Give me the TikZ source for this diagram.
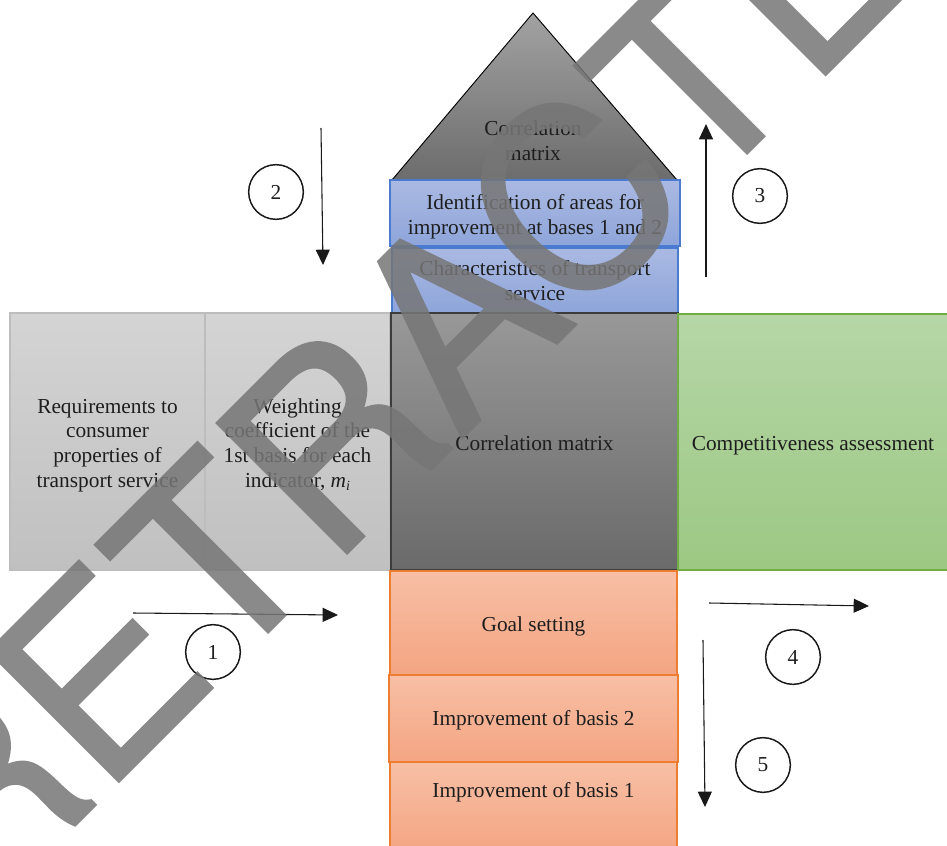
\documentclass[tikz,border=0pt]{standalone}
\usepackage{fontspec}
\setmainfont{Liberation Serif}
\newfontfamily\wmfont[FakeBold=1.2]{TeX Gyre Heros}
\usetikzlibrary{arrows.meta}
\definecolor{txt}{HTML}{1E1E1E}
\definecolor{wmgray}{HTML}{767676}
\definecolor{blueedge}{HTML}{4A7BD0}
\definecolor{greenedge}{HTML}{70AD47}
\definecolor{orangeedge}{HTML}{ED7D31}
\definecolor{greyedge}{HTML}{BDBDBD}
\newcommand{\lowtext}[1]{\raisebox{-2.8pt}[\height][\depth]{\begin{tabular}{@{}c@{}}#1\end{tabular}}}
\tikzset{
  boxbase/.style={shade, inner sep=0pt, align=center, text=txt,
    font=\fontsize{16}{18.5}\selectfont},
  bluebox/.style={boxbase, draw=blueedge, line width=0.9pt, top color={rgb,255:red,170;green,185;blue,226}, bottom color={rgb,255:red,142;green,165;blue,218}},
  greybox/.style={boxbase, draw=greyedge, line width=0.8pt, top color={rgb,255:red,212;green,212;blue,212}, bottom color={rgb,255:red,192;green,192;blue,192}},
  darkbox/.style={boxbase, draw={rgb,255:red,60;green,60;blue,60}, line width=0.9pt, top color={rgb,255:red,152;green,152;blue,152}, bottom color={rgb,255:red,106;green,106;blue,106}},
  greenbox/.style={boxbase, draw=greenedge, line width=0.9pt, top color={rgb,255:red,182;green,214;blue,167}, bottom color={rgb,255:red,156;green,200;blue,131}},
  orangebox/.style={boxbase, draw=orangeedge, line width=0.9pt, top color={rgb,255:red,247;green,191;blue,165}, bottom color={rgb,255:red,244;green,165;blue,130}},
  arr/.style={line width=0.8pt, -{Triangle[length=11.5pt, width=10.5pt]}, black!90},
  numcirc/.style={circle, draw=black!90, line width=1.1pt, minimum size=41pt, inner sep=0pt, text=txt, font=\fontsize{16}{18}\selectfont},
}
\begin{document}
\begin{tikzpicture}[x=0.75pt,y=-0.75pt]
\useasboundingbox (0,0) rectangle (947,846);
\clip (0,0) rectangle (947,846);
\fill[white] (0,0) rectangle (947,846);

% roof
\shade[top color={rgb,255:red,162;green,162;blue,162}, bottom color={rgb,255:red,108;green,108;blue,108}, draw=black, line width=0.7pt]
  (533,13) -- (677,180) -- (392,180) -- cycle;
\node[text=txt, align=center, font=\fontsize{16}{18.5}\selectfont] (roof) at (533,141) {Correlation\\matrix};

% blue boxes
\node[bluebox, minimum width=290*0.75pt, minimum height=66*0.75pt] (ident) at (535,213) {\lowtext{Identification of areas for\\improvement at bases 1 and 2}};
\node[bluebox, minimum width=286*0.75pt, minimum height=65*0.75pt] (charac) at (535,280.5) {Characteristics of transport\\service};

% left grey boxes
\node[greybox, minimum width=195*0.75pt, minimum height=257*0.75pt] (req) at (107.5,441.5) {\lowtext{Requirements to\\consumer\\properties of\\transport service}};
\node[greybox, minimum width=185*0.75pt, minimum height=257*0.75pt] (weight) at (297.5,441.5) {\lowtext{Weighting\\coefficient of the\\1st basis for each\\indicator, \textit{m}\raisebox{-0.3ex}{\fontsize{10.5}{10.5}\selectfont\textit{i}}}};

% centre
\node[darkbox, minimum width=287*0.75pt, minimum height=257*0.75pt] (corr) at (534.5,441.5) {\lowtext{Correlation matrix}};

% green
\node[greenbox, minimum width=282*0.75pt, minimum height=256*0.75pt] (comp) at (819,442) {\hspace*{-9pt}\lowtext{Competitiveness assessment}};

% orange boxes
\node[orangebox, minimum width=287*0.75pt, minimum height=104*0.75pt] (goal) at (533.5,623) {\lowtext{Goal setting}};
\node[orangebox, minimum width=289*0.75pt, minimum height=87*0.75pt] (imp2) at (533.5,718.5) {\raisebox{-1.5pt}[\height][\depth]{Improvement of basis 2}};
\node[orangebox, minimum width=287*0.75pt, text height=26pt, text depth=42pt, anchor=north] (imp1) at (533.5,762) {Improvement of basis 1};

% arrows
\coordinate (a1s) at (133,613); \coordinate (a1e) at (338,615);
\coordinate (a2s) at (321,128); \coordinate (a2e) at (323,265);
\coordinate (a3s) at (706,277); \coordinate (a3e) at (706,124);
\coordinate (a4s) at (709,603); \coordinate (a4e) at (869,606);
\coordinate (a5s) at (703,640); \coordinate (a5e) at (705,807);
\draw[arr] (a1s) -- (a1e);
\draw[arr] (a2s) -- (a2e);
\draw[arr] (a3s) -- (a3e);
\draw[arr] (a4s) -- (a4e);
\draw[arr] (a5s) -- (a5e);

% numbered circles
\node[numcirc] (n1) at (213,652) {1};
\node[numcirc] (n2) at (276,192) {2};
\node[numcirc] (n3) at (760,196) {3};
\node[numcirc] (n4) at (793,657) {4};
\node[numcirc] (n5) at (763,765) {5};

% watermark
\begin{scope}[transparency group, opacity=0.85]
\node[rotate=45, anchor=base west, inner sep=0pt, text=wmgray] (wm) at (-26,926)
  {\wmfont\fontsize{189}{190}\selectfont RETRACTED};
\end{scope}
\end{tikzpicture}
\end{document}
